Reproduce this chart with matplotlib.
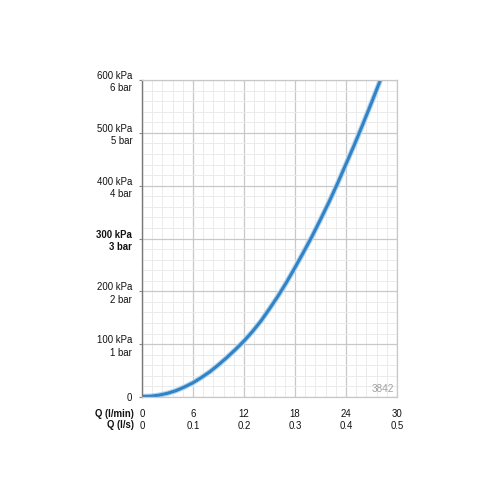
import matplotlib
matplotlib.use("Agg")
import matplotlib.pyplot as plt
import numpy as np

plt.rcParams['font.family'] = ['Liberation Sans', 'DejaVu Sans']

flow_lmin = [0, 1, 2, 3, 4, 5, 6, 7, 8, 9, 10, 11, 12, 13, 14, 15, 16, 17, 18, 19,
             20, 21, 22, 23, 24, 25, 26, 27, 28, 28.1]
pressure_kpa = [1, 1.5, 3.5, 7, 12, 19, 27, 37, 48, 61, 75, 90, 106, 124, 144, 167, 191, 217, 245, 274,
                304, 336, 369, 404, 441, 478, 517, 557, 598, 602]
x_ticks_lmin = [0, 6, 12, 18, 24, 30]
x_ticks_ls = ["0", "0.1", "0.2", "0.3", "0.4", "0.5"]
y_ticks = [0, 100, 200, 300, 400, 500, 600]
y_labels = ["0", "100 kPa\n1 bar", "200 kPa\n2 bar", "300 kPa\n3 bar", "400 kPa\n4 bar",
            "500 kPa\n5 bar", "600 kPa\n6 bar"]

FS = 6.9
fig = plt.figure(figsize=(5, 5), dpi=100)
ax = fig.add_axes([0.284, 0.206, 0.51, 0.634])
ax.set_xlim(0, 30)
ax.set_ylim(0, 600)

ax.set_xticks(np.arange(0, 30.01, 1.2), minor=True)
ax.set_yticks(np.arange(0, 600.01, 20), minor=True)
ax.set_xticks(x_ticks_lmin)
ax.set_yticks(y_ticks)
ax.grid(which="minor", color="#ebebeb", lw=0.7)
ax.grid(which="major", color="#c8c8c8", lw=0.9)
ax.set_axisbelow(True)

ax.set_xticklabels([f"{a}\n{b}" for a, b in zip(x_ticks_lmin, x_ticks_ls)], fontsize=FS, color="#111111", linespacing=1.3)
ax.set_yticklabels(y_labels, fontsize=FS, color="#111111", ha="right", linespacing=1.3)
for lbl in ax.get_yticklabels():
    if lbl.get_text().startswith("300"):
        lbl.set_fontweight("bold")
ax.tick_params(which="both", length=0)
ax.tick_params(axis="y", pad=5)
ax.tick_params(axis="x", pad=8.5)
ax.tick_params(axis="y", which="major", length=2, color="#888888")

for s in ["top", "right", "bottom"]:
    ax.spines[s].set_color("#c8c8c8")
    ax.spines[s].set_linewidth(0.9)
ax.spines["left"].set_color("#777777")
ax.spines["left"].set_linewidth(1.0)

ax.plot(flow_lmin, pressure_kpa, color="#b5d3ec", lw=3.8, solid_joinstyle="round")
ax.plot(flow_lmin, pressure_kpa, color="#2f83c6", lw=2.2, solid_joinstyle="round")

ax.text(29.6, 6, "3842", ha="right", va="bottom", fontsize=7.2, color="#a0a0a0")

fig.text(0.268, 0.172, "Q (l/min)", ha="right", va="center", fontsize=FS, fontweight="bold", color="#111111")
fig.text(0.268, 0.150, "Q (l/s)", ha="right", va="center", fontsize=FS, fontweight="bold", color="#111111")

fig.savefig("out.png", dpi=100, facecolor="white")
